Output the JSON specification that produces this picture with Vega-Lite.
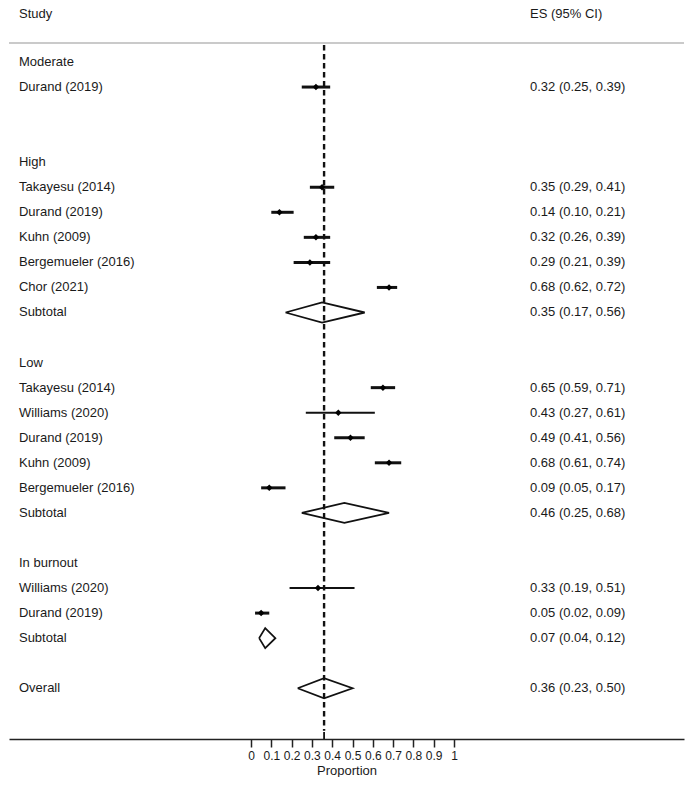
{
  "$schema": "https://vega.github.io/schema/vega-lite/v6.json",
  "width": 675,
  "height": 739,
  "padding": {"left": 8, "right": 5, "top": 0, "bottom": 0},
  "autosize": {"type": "pad"},
  "background": "white",
  "config": {
    "view": {"stroke": null},
    "text": {"font": "Liberation Sans", "fontSize": 13, "color": "#1a1a1a"},
    "axisX": {
      "grid": false,
      "domainColor": "#222",
      "domainWidth": 1.5,
      "tickColor": "#222",
      "tickWidth": 1.5,
      "tickSize": 8,
      "labelFont": "Liberation Sans",
      "labelFontSize": 12,
      "labelColor": "#1a1a1a",
      "labelPadding": 3,
      "labelOverlap": false,
      "labelFlush": false,
      "titleFont": "Liberation Sans",
      "titleFontSize": 13,
      "titleFontWeight": "normal",
      "titleColor": "#1a1a1a",
      "titlePadding": 3
    }
  },
  "datasets": {
    "rows": [
      {"row": 0, "label": "Moderate", "kind": "head"},
      {"row": 1, "label": "Durand (2019)", "kind": "study", "es": 0.32, "lo": 0.25, "hi": 0.39, "ci": "0.32 (0.25, 0.39)"},
      {"row": 4, "label": "High", "kind": "head"},
      {"row": 5, "label": "Takayesu (2014)", "kind": "study", "es": 0.35, "lo": 0.29, "hi": 0.41, "ci": "0.35 (0.29, 0.41)"},
      {"row": 6, "label": "Durand (2019)", "kind": "study", "es": 0.14, "lo": 0.10, "hi": 0.21, "ci": "0.14 (0.10, 0.21)"},
      {"row": 7, "label": "Kuhn (2009)", "kind": "study", "es": 0.32, "lo": 0.26, "hi": 0.39, "ci": "0.32 (0.26, 0.39)"},
      {"row": 8, "label": "Bergemueler (2016)", "kind": "study", "es": 0.29, "lo": 0.21, "hi": 0.39, "ci": "0.29 (0.21, 0.39)"},
      {"row": 9, "label": "Chor (2021)", "kind": "study", "es": 0.68, "lo": 0.62, "hi": 0.72, "ci": "0.68 (0.62, 0.72)"},
      {"row": 10, "label": "Subtotal", "kind": "sub", "es": 0.35, "lo": 0.17, "hi": 0.56, "ci": "0.35 (0.17, 0.56)"},
      {"row": 12, "label": "Low", "kind": "head"},
      {"row": 13, "label": "Takayesu (2014)", "kind": "study", "es": 0.65, "lo": 0.59, "hi": 0.71, "ci": "0.65 (0.59, 0.71)"},
      {"row": 14, "label": "Williams (2020)", "kind": "study", "es": 0.43, "lo": 0.27, "hi": 0.61, "ci": "0.43 (0.27, 0.61)"},
      {"row": 15, "label": "Durand (2019)", "kind": "study", "es": 0.49, "lo": 0.41, "hi": 0.56, "ci": "0.49 (0.41, 0.56)"},
      {"row": 16, "label": "Kuhn (2009)", "kind": "study", "es": 0.68, "lo": 0.61, "hi": 0.74, "ci": "0.68 (0.61, 0.74)"},
      {"row": 17, "label": "Bergemueler (2016)", "kind": "study", "es": 0.09, "lo": 0.05, "hi": 0.17, "ci": "0.09 (0.05, 0.17)"},
      {"row": 18, "label": "Subtotal", "kind": "sub", "es": 0.46, "lo": 0.25, "hi": 0.68, "ci": "0.46 (0.25, 0.68)"},
      {"row": 20, "label": "In burnout", "kind": "head"},
      {"row": 21, "label": "Williams (2020)", "kind": "study", "es": 0.33, "lo": 0.19, "hi": 0.51, "ci": "0.33 (0.19, 0.51)"},
      {"row": 22, "label": "Durand (2019)", "kind": "study", "es": 0.05, "lo": 0.02, "hi": 0.09, "ci": "0.05 (0.02, 0.09)"},
      {"row": 23, "label": "Subtotal", "kind": "sub", "es": 0.07, "lo": 0.04, "hi": 0.12, "ci": "0.07 (0.04, 0.12)"},
      {"row": 25, "label": "Overall", "kind": "sub", "es": 0.36, "lo": 0.23, "hi": 0.50, "ci": "0.36 (0.23, 0.50)"}
    ],
    "diamonds": [
      {"grp": "High", "ord": 0, "dx": 0.17, "dy": 10},
      {"grp": "High", "ord": 1, "dx": 0.35, "dy": 9.6},
      {"grp": "High", "ord": 2, "dx": 0.56, "dy": 10},
      {"grp": "High", "ord": 3, "dx": 0.35, "dy": 10.4},
      {"grp": "High", "ord": 4, "dx": 0.17, "dy": 10},
      {"grp": "Low", "ord": 0, "dx": 0.25, "dy": 18},
      {"grp": "Low", "ord": 1, "dx": 0.46, "dy": 17.6},
      {"grp": "Low", "ord": 2, "dx": 0.68, "dy": 18},
      {"grp": "Low", "ord": 3, "dx": 0.46, "dy": 18.4},
      {"grp": "Low", "ord": 4, "dx": 0.25, "dy": 18},
      {"grp": "Burnout", "ord": 0, "dx": 0.04, "dy": 23},
      {"grp": "Burnout", "ord": 1, "dx": 0.07, "dy": 22.6},
      {"grp": "Burnout", "ord": 2, "dx": 0.12, "dy": 23},
      {"grp": "Burnout", "ord": 3, "dx": 0.07, "dy": 23.4},
      {"grp": "Burnout", "ord": 4, "dx": 0.04, "dy": 23},
      {"grp": "Overall", "ord": 0, "dx": 0.23, "dy": 25},
      {"grp": "Overall", "ord": 1, "dx": 0.36, "dy": 24.6},
      {"grp": "Overall", "ord": 2, "dx": 0.50, "dy": 25},
      {"grp": "Overall", "ord": 3, "dx": 0.36, "dy": 25.4},
      {"grp": "Overall", "ord": 4, "dx": 0.23, "dy": 25}
    ]
  },
  "layer": [
    {
      "data": {"values": [{"overall": 0.36}]},
      "mark": {"type": "rule", "strokeDash": [5.5, 3.5], "strokeWidth": 2.4, "color": "#111"},
      "encoding": {
        "x": {"field": "overall", "type": "quantitative", "scale": {"domain": [-1.19212, 2.133], "nice": false, "zero": false}, "axis": {"values": [0, 0.1, 0.2, 0.3, 0.4, 0.5, 0.6, 0.7, 0.8, 0.9, 1], "format": "~g", "title": "Proportion"}},
        "y": {"datum": -0.68, "type": "quantitative", "scale": {"domain": [-2.475, 27.026], "reverse": true, "nice": false, "zero": false}, "axis": null},
        "y2": {"datum": 26.7}
      }
    },
    {
      "data": {"values": [{"overall": 0.36}]},
      "mark": {"type": "rule", "strokeWidth": 1.8, "color": "#111"},
      "encoding": {
        "x": {"field": "overall", "type": "quantitative", "scale": {"domain": [-1.19212, 2.133], "nice": false, "zero": false}, "axis": {"values": [0, 0.1, 0.2, 0.3, 0.4, 0.5, 0.6, 0.7, 0.8, 0.9, 1], "format": "~g", "title": "Proportion"}},
        "y": {"datum": 26.75, "type": "quantitative", "scale": {"domain": [-2.475, 27.026], "reverse": true, "nice": false, "zero": false}, "axis": null},
        "y2": {"datum": 27.026}
      }
    },
    {
      "data": {"values": [{"a": -1.19212, "b": 2.133}]},
      "mark": {"type": "rule", "strokeWidth": 1.5, "color": "#b8b8b8"},
      "encoding": {
        "x": {"field": "a", "type": "quantitative", "scale": {"domain": [-1.19212, 2.133], "nice": false, "zero": false}, "axis": {"values": [0, 0.1, 0.2, 0.3, 0.4, 0.5, 0.6, 0.7, 0.8, 0.9, 1], "format": "~g", "title": "Proportion"}},
        "x2": {"field": "b"},
        "y": {"datum": -0.758, "type": "quantitative", "scale": {"domain": [-2.475, 27.026], "reverse": true, "nice": false, "zero": false}, "axis": null}
      }
    },
    {
      "data": {"name": "rows"},
      "transform": [{"filter": "datum.kind === 'study' && datum.label !== 'Williams (2020)'"}],
      "mark": {"type": "rule", "strokeWidth": 3, "color": "#111"},
      "encoding": {
        "x": {"field": "lo", "type": "quantitative", "scale": {"domain": [-1.19212, 2.133], "nice": false, "zero": false}, "axis": {"values": [0, 0.1, 0.2, 0.3, 0.4, 0.5, 0.6, 0.7, 0.8, 0.9, 1], "format": "~g", "title": "Proportion"}},
        "x2": {"field": "hi"},
        "y": {"field": "row", "type": "quantitative", "scale": {"domain": [-2.475, 27.026], "reverse": true, "nice": false, "zero": false}, "axis": null}
      }
    },
    {
      "data": {"name": "rows"},
      "transform": [{"filter": "datum.kind === 'study' && datum.label === 'Williams (2020)'"}],
      "mark": {"type": "rule", "strokeWidth": 2, "color": "#111"},
      "encoding": {
        "x": {"field": "lo", "type": "quantitative", "scale": {"domain": [-1.19212, 2.133], "nice": false, "zero": false}, "axis": {"values": [0, 0.1, 0.2, 0.3, 0.4, 0.5, 0.6, 0.7, 0.8, 0.9, 1], "format": "~g", "title": "Proportion"}},
        "x2": {"field": "hi"},
        "y": {"field": "row", "type": "quantitative", "scale": {"domain": [-2.475, 27.026], "reverse": true, "nice": false, "zero": false}, "axis": null}
      }
    },
    {
      "data": {"name": "rows"},
      "transform": [{"filter": "datum.kind === 'study'"}],
      "mark": {"type": "point", "shape": "diamond", "filled": true, "size": 42, "color": "#000", "opacity": 1},
      "encoding": {
        "x": {"field": "es", "type": "quantitative", "scale": {"domain": [-1.19212, 2.133], "nice": false, "zero": false}, "axis": {"values": [0, 0.1, 0.2, 0.3, 0.4, 0.5, 0.6, 0.7, 0.8, 0.9, 1], "format": "~g", "title": "Proportion"}},
        "y": {"field": "row", "type": "quantitative", "scale": {"domain": [-2.475, 27.026], "reverse": true, "nice": false, "zero": false}, "axis": null}
      }
    },
    {
      "data": {"name": "diamonds"},
      "mark": {"type": "line", "strokeWidth": 1.8, "color": "#111", "strokeJoin": "miter"},
      "encoding": {
        "x": {"field": "dx", "type": "quantitative", "scale": {"domain": [-1.19212, 2.133], "nice": false, "zero": false}, "axis": {"values": [0, 0.1, 0.2, 0.3, 0.4, 0.5, 0.6, 0.7, 0.8, 0.9, 1], "format": "~g", "title": "Proportion"}},
        "y": {"field": "dy", "type": "quantitative", "scale": {"domain": [-2.475, 27.026], "reverse": true, "nice": false, "zero": false}, "axis": null},
        "detail": {"field": "grp"},
        "order": {"field": "ord", "type": "quantitative"}
      }
    },
    {
      "data": {"name": "rows"},
      "mark": {"type": "text", "align": "left", "baseline": "middle"},
      "encoding": {
        "x": {"datum": -1.143, "type": "quantitative", "scale": {"domain": [-1.19212, 2.133], "nice": false, "zero": false}, "axis": {"values": [0, 0.1, 0.2, 0.3, 0.4, 0.5, 0.6, 0.7, 0.8, 0.9, 1], "format": "~g", "title": "Proportion"}},
        "y": {"field": "row", "type": "quantitative", "scale": {"domain": [-2.475, 27.026], "reverse": true, "nice": false, "zero": false}, "axis": null},
        "text": {"field": "label"}
      }
    },
    {
      "data": {"name": "rows"},
      "transform": [{"filter": "datum.kind !== 'head'"}],
      "mark": {"type": "text", "align": "left", "baseline": "middle"},
      "encoding": {
        "x": {"datum": 1.3743, "type": "quantitative", "scale": {"domain": [-1.19212, 2.133], "nice": false, "zero": false}, "axis": {"values": [0, 0.1, 0.2, 0.3, 0.4, 0.5, 0.6, 0.7, 0.8, 0.9, 1], "format": "~g", "title": "Proportion"}},
        "y": {"field": "row", "type": "quantitative", "scale": {"domain": [-2.475, 27.026], "reverse": true, "nice": false, "zero": false}, "axis": null},
        "text": {"field": "ci"}
      }
    },
    {
      "data": {"values": [{"h": "Study", "hx": -1.143}, {"h": "ES (95% CI)", "hx": 1.3743}]},
      "mark": {"type": "text", "align": "left", "baseline": "middle"},
      "encoding": {
        "x": {"field": "hx", "type": "quantitative", "scale": {"domain": [-1.19212, 2.133], "nice": false, "zero": false}, "axis": {"values": [0, 0.1, 0.2, 0.3, 0.4, 0.5, 0.6, 0.7, 0.8, 0.9, 1], "format": "~g", "title": "Proportion"}},
        "y": {"datum": -1.916, "type": "quantitative", "scale": {"domain": [-2.475, 27.026], "reverse": true, "nice": false, "zero": false}, "axis": null},
        "text": {"field": "h"}
      }
    }
  ]
}
